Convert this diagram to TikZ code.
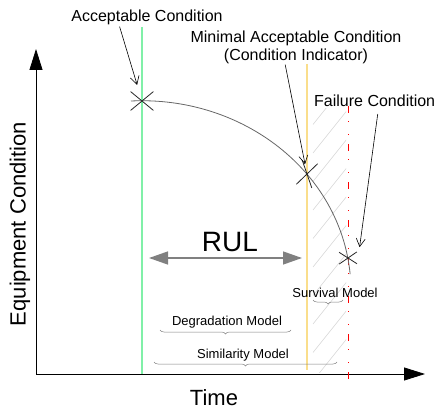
\documentclass[tikz,border=0pt]{standalone}
\usepackage{fontspec}
\setmainfont{Liberation Sans}
\usetikzlibrary{arrows.meta,shapes.misc,decorations.pathreplacing}

\definecolor{okgreen}{RGB}{128,240,168}
\definecolor{minyellow}{RGB}{250,222,140}
\definecolor{hatchgray}{RGB}{210,210,210}

\begin{document}
\begin{tikzpicture}[
    x=1pt, y=-1pt,
    >=Latex,
    lbl/.style     = {inner sep=0pt, align=center, font=\fontsize{16}{18}\selectfont},
    model/.style   = {inner sep=0pt, font=\fontsize{13}{15}\selectfont},
    xmark/.style   = {cross out, draw=black!85, inner sep=0pt, line width=0.8pt},
    pointer/.style = {draw, line width=0.6pt, -{Straight Barb[length=8pt,width=9pt]}},
    axis/.style    = {draw, line width=0.8pt, -{Triangle[length=21pt,width=13pt]}},
    span/.style    = {draw=gray, line width=0.5pt, decorate,
                      decoration={brace, mirror, amplitude=4pt}},
    hatch/.style   = {draw=hatchgray, line width=0.5pt}
]
\useasboundingbox (0,0) rectangle (434,412);

% =========================================================
% AXES
% =========================================================
\coordinate (O)    at (36,374);
\coordinate (ytip) at (36,49);
\coordinate (xtip) at (425,374);
\draw[axis] (O) -- (ytip);
\draw[axis] (O) -- (xtip);

\node[rotate=90, font=\fontsize{22}{24}\selectfont] (ylab) at (20,224) {Equipment Condition};
\node[font=\fontsize{22}{24}\selectfont] (xlab) at (214,398) {Time};

% =========================================================
% CONDITION LINES
% =========================================================
\coordinate (acc top) at (142,27);
\coordinate (acc bot) at (142,374);
\coordinate (min top) at (307,64);
\coordinate (min bot) at (307,370);
\coordinate (fail top) at (348,106);
\coordinate (fail bot) at (348,380);

% hatched band between minimal and failure condition
\begin{scope}
  \clip (311,108) rectangle (346,372);
  \foreach \k in {0,...,10}
    \draw[hatch] (313,96+28.5*\k) -- ++(34,-42.5);
\end{scope}

\draw[okgreen, line width=1.5pt] (acc top) -- (acc bot);
\draw[minyellow, line width=1.3pt] (min top) -- (min bot);
\draw[red, line width=0.8pt, dash pattern=on 7pt off 8pt on 1pt off 12pt on 1pt off 9pt]
  (fail top) -- (fail bot);

% =========================================================
% DEGRADATION CURVE
% =========================================================
\draw[gray!80!black, line width=0.8pt] (131,101)
  arc[start angle=-93, end angle=-5, x radius=209, y radius=190];

\node[xmark, minimum width=22, minimum height=18] (x1) at (142,101) {};
\node[xmark, minimum width=24, minimum height=15, rotate=76.5] (x2) at (307,174) {};
\node[xmark, minimum width=17, minimum height=11, rotate=1] (x3) at (348,258) {};

% =========================================================
% LABELS
% =========================================================
\node[lbl] (acclbl)  at (147,17) {Acceptable Condition};
\node[lbl] (minlbl)  at (296,47) {Minimal Acceptable Condition\\(Condition Indicator)};
\node[lbl, anchor=west] (faillbl) at (314,101) {Failure Condition};

\draw[pointer, shorten <=2pt, shorten >=7pt] ([xshift=-28]acclbl.south) -- (x1);
\draw[pointer, shorten <=1pt, shorten >=10pt] ([xshift=-11]minlbl.south) -- (x2.center);
\draw[pointer, shorten <=7pt, shorten >=5pt] ([xshift=4]faillbl.south) -- ([xshift=11]x3.north);

% =========================================================
% RUL
% =========================================================
\coordinate (rul l) at (149,258);
\coordinate (rul r) at (302,258);
\draw[gray, line width=1.3pt, {Triangle[length=19pt,width=13pt]}-{Triangle[length=19pt,width=13pt]}]
  (rul l) -- (rul r);
\node[font=\fontsize{28}{30}\selectfont] (rul) at (230,242) {RUL};

% =========================================================
% MODELS
% =========================================================
\node[model] (surv)  at (335,293) {Survival Model};
\node[model] (degr)  at (227,322) {Degradation Model};
\node[model] (simil) at (243,355) {Similarity Model};

\draw[span] (313,300) -- (343,300);
\draw[span] (160,330) -- (291,330);
\draw[span] (154,362) -- (337,362);

\end{tikzpicture}
\end{document}
